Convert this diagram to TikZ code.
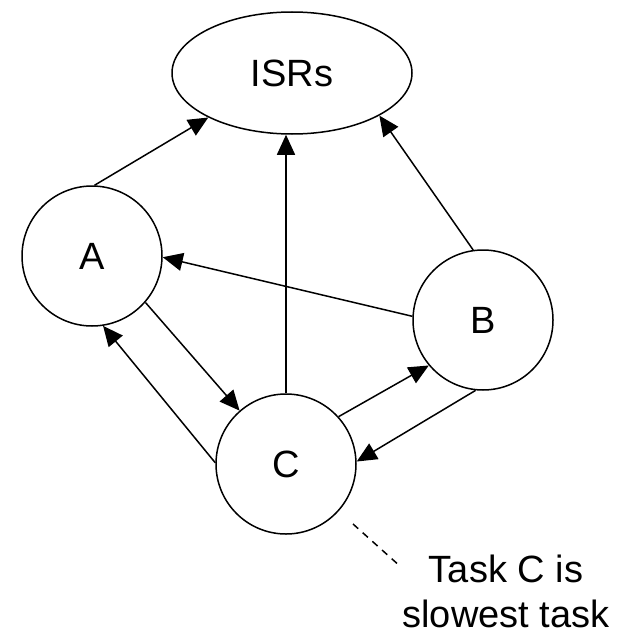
\documentclass[tikz,border=0pt]{standalone}
\usepackage{fontspec}
\setmainfont{Liberation Sans}
\usetikzlibrary{shapes.geometric,arrows.meta}

\tikzset{
  task/.style={circle, draw, line width=1.5pt, minimum size=140pt, inner sep=0pt,
               font=\fontsize{38}{44}\selectfont},
  isr/.style={ellipse, draw, line width=1.5pt, minimum width=240pt, minimum height=122pt,
              inner sep=0pt, font=\fontsize{38}{44}\selectfont},
  flow/.style={-{Triangle[length=20pt,width=18pt]}, line width=1.5pt},
  note/.style={anchor=base, inner sep=0pt, text depth=0pt, font=\fontsize{38}{44}\selectfont},
  leader/.style={line width=1.5pt, dash pattern=on 7pt off 6pt}
}

\begin{document}
\begin{tikzpicture}[x=1pt, y=-1pt]
  \useasboundingbox (0,0) rectangle (619,634);

  % interrupt service routines and the three tasks
  \node[isr]  (isr) at (292,73)  {ISRs};
  \node[task] (a)   at (92,256)  {A};
  \node[task] (b)   at (483,320) {B};
  \node[task] (c)   at (286,464) {C};

  % calls into the ISRs
  \draw[flow] (a.88)   -- (isr.208);
  \draw[flow] (c.north) -- (c.north |- isr.south);
  \draw[flow] (b.98)   -- (isr.334);

  % messages between tasks
  \draw[flow] (b.177) -- (a.359);
  \draw[flow] (a.319) -- (c.131);
  \draw[flow] (c.179) -- (a.279);
  \draw[flow] (c.42)  -- (b.220);
  \draw[flow] (b.264) -- (c.2);

  % annotation
  \node[note] (note1) at (506,582) {Task C is};
  \node[note] (note2) at (506,627) {slowest task};
  \coordinate (lead1) at (353,524);
  \coordinate (lead2) at (401,567);
  \draw[leader] (lead1) -- (lead2);
\end{tikzpicture}
\end{document}
